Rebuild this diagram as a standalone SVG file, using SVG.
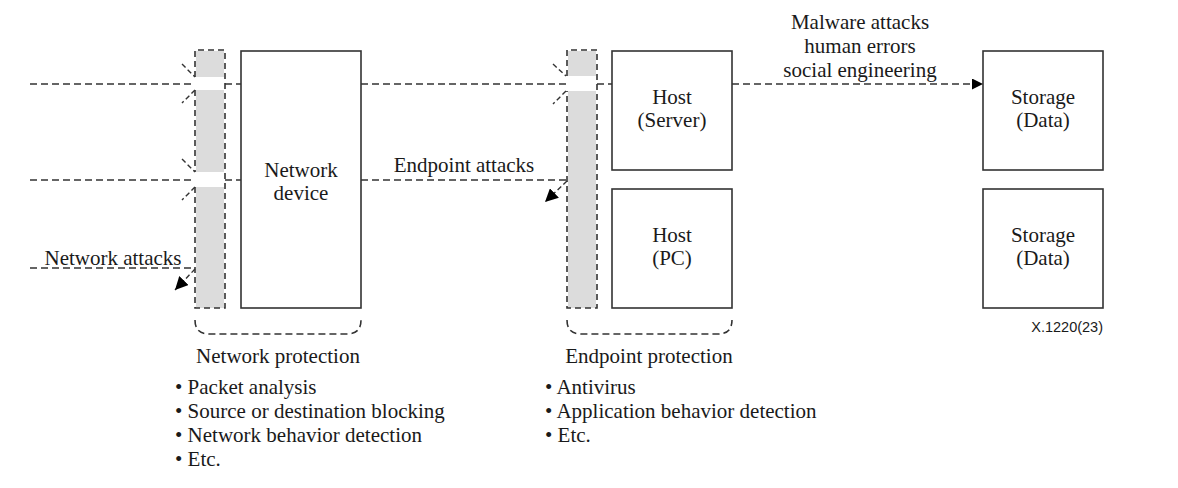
<svg xmlns="http://www.w3.org/2000/svg" width="1178" height="488" viewBox="0 0 1178 488">
<defs>
<style>
text{font-family:"Liberation Serif","Times New Roman",serif;font-size:21px;fill:#1a1a1a}
.c{text-anchor:middle}
.box{fill:#fff;stroke:#333;stroke-width:1.6}
.bar{fill:#dcdcdc}
.barline{fill:none;stroke:#333;stroke-width:1.6;stroke-dasharray:6,4}
.dash{fill:none;stroke:#333;stroke-width:1.6;stroke-dasharray:7,4}
.sl{fill:none;stroke:#333;stroke-width:1.4;stroke-dasharray:5,3}
.note{font-family:"Liberation Sans",Arial,sans-serif;font-size:14.5px;text-anchor:end}
</style>
<marker id="ah" viewBox="0 0 10 10" refX="10" refY="5" markerWidth="11" markerHeight="11" markerUnits="userSpaceOnUse" orient="auto">
<path d="M0,0 L10,5 L0,10 z" fill="#000"/>
</marker>
<marker id="ah2" viewBox="0 0 10 10" refX="10" refY="5" markerWidth="13" markerHeight="13" markerUnits="userSpaceOnUse" orient="auto">
<path d="M0,0 L10,5 L0,10 z" fill="#000"/>
</marker>
</defs>

<g id="network-barrier">
<rect class="bar" x="196" y="51" width="28" height="26"/>
<rect class="bar" x="196" y="90" width="28" height="82"/>
<rect class="bar" x="196" y="187" width="28" height="121"/>
<path class="barline" d="M195,77 V50 H225 V308 H195 V187"/>
<path class="barline" d="M195,90 V172"/>
<path class="sl" d="M182,64 L195,77 M195,90 L182,103 M182,159 L195,172 M195,187 L182,200"/>
</g>

<g id="endpoint-barrier">
<rect class="bar" x="568" y="51" width="28" height="25"/>
<rect class="bar" x="568" y="91" width="28" height="217"/>
<path class="barline" d="M567,76 V50 H597 V308 H567 V91"/>
<path class="sl" d="M553,64 L566,76 M566,91 L553,104"/>
</g>

<g id="network-device">
<rect class="box" x="241" y="51" width="120" height="257"/>
<text class="c" x="301" y="177">Network</text>
<text class="c" x="301" y="200">device</text>
</g>

<g id="host-server">
<rect class="box" x="612" y="51" width="120" height="119"/>
<text class="c" x="672" y="104">Host</text>
<text class="c" x="672" y="127">(Server)</text>
</g>

<g id="host-pc">
<rect class="box" x="612" y="189" width="120" height="119"/>
<text class="c" x="672" y="242">Host</text>
<text class="c" x="672" y="265">(PC)</text>
</g>

<g id="storage-1">
<rect class="box" x="983" y="51" width="120" height="119"/>
<text class="c" x="1043" y="104">Storage</text>
<text class="c" x="1043" y="127">(Data)</text>
</g>

<g id="storage-2">
<rect class="box" x="983" y="189" width="120" height="119"/>
<text class="c" x="1043" y="242">Storage</text>
<text class="c" x="1043" y="265">(Data)</text>
</g>

<g id="connectors">
<path class="dash" d="M30,84 H195 M225,84 H241 M361,84 H567 M597,84 H612"/>
<path class="dash" d="M732,84 H983" marker-end="url(#ah)"/>
<path class="dash" d="M30,180 H195 M225,180 H241 M361,180 H567"/>
<path class="dash" d="M30,268 H195"/>
<path class="sl" d="M195,269 L175,290" marker-end="url(#ah2)"/>
<path class="sl" d="M567,181 L545,202" marker-end="url(#ah2)"/>
</g>

<g id="braces">
<path class="dash" d="M195,320 Q195,334 209,334 H347 Q361,334 361,320"/>
<path class="dash" d="M567,320 Q567,334 581,334 H718 Q732,334 732,320"/>
</g>

<g id="labels">
<text class="c" x="860" y="29">Malware attacks</text>
<text class="c" x="860" y="53">human errors</text>
<text class="c" x="860" y="77">social engineering</text>
<text class="c" x="464" y="172">Endpoint attacks</text>
<text class="c" x="113" y="265">Network attacks</text>
<text class="c" x="278" y="363">Network protection</text>
<text class="c" x="649" y="363">Endpoint protection</text>
<text x="175" y="394">• Packet analysis</text>
<text x="175" y="418">• Source or destination blocking</text>
<text x="175" y="442">• Network behavior detection</text>
<text x="175" y="466">• Etc.</text>
<text x="545" y="394">• Antivirus</text>
<text x="545" y="418">• Application behavior detection</text>
<text x="545" y="442">• Etc.</text>
<text class="note" x="1103" y="332">X.1220(23)</text>
</g>
</svg>
